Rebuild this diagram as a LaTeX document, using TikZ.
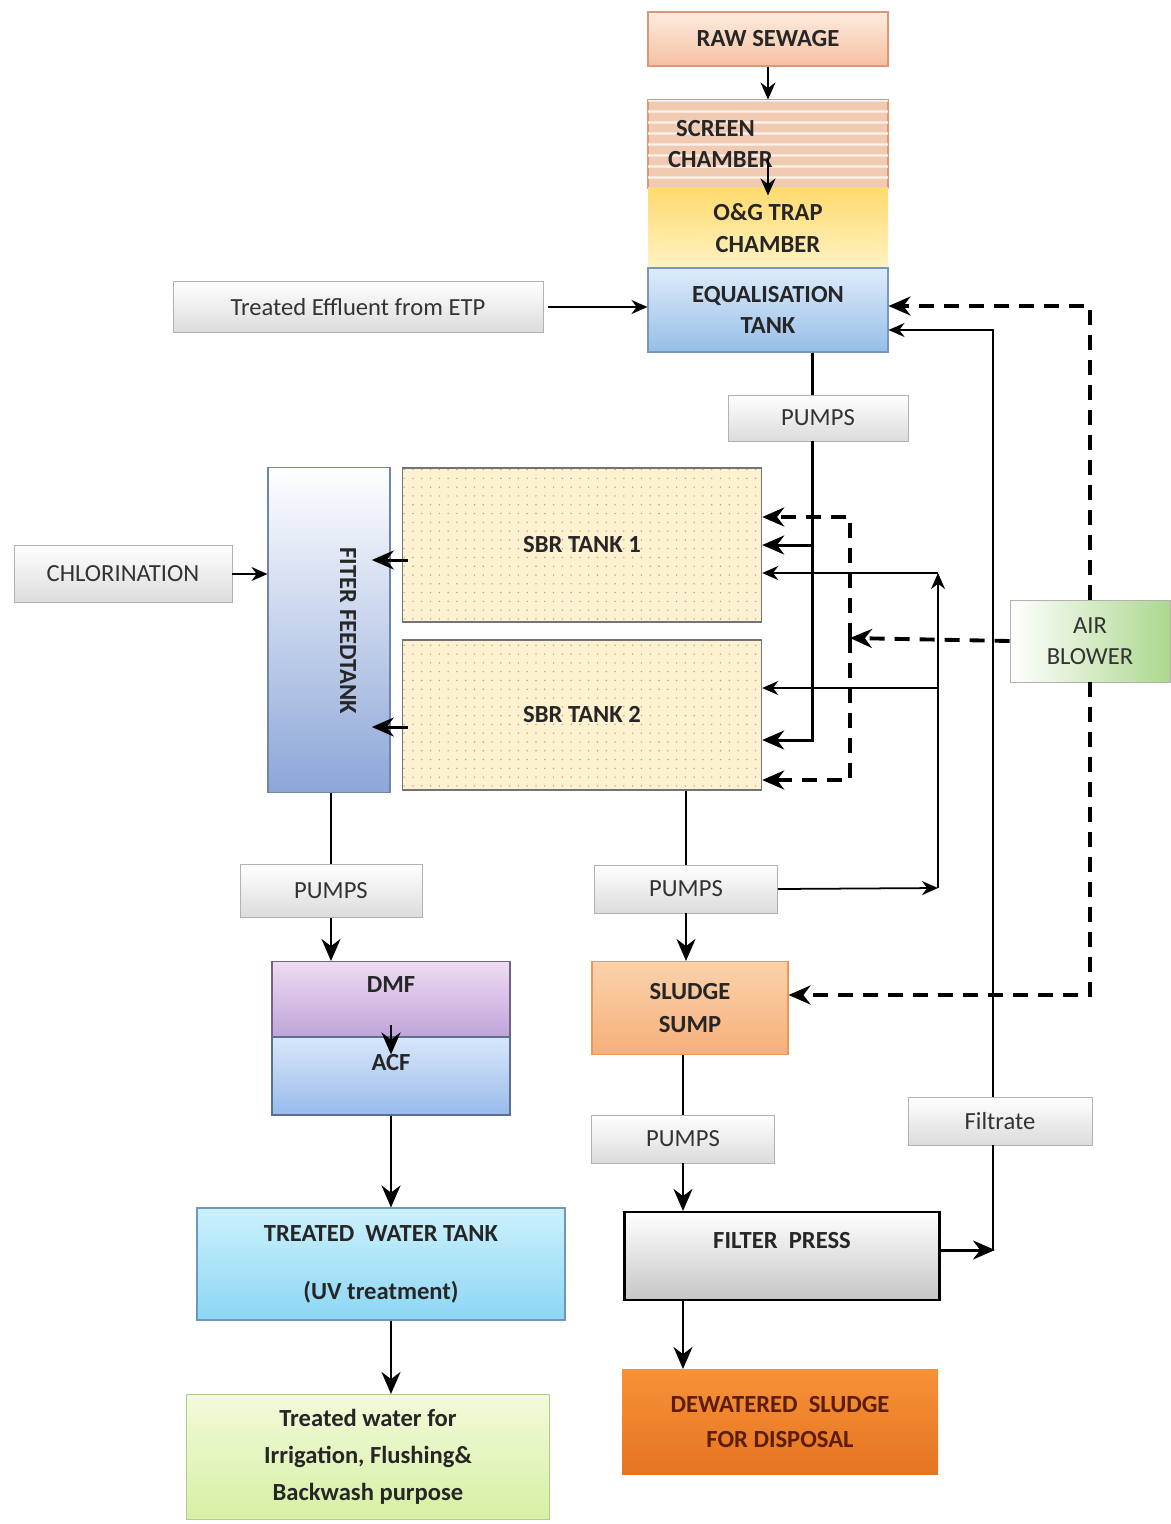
\documentclass[tikz,border=0pt]{standalone}
\usepackage{fontspec}
\setmainfont{Carlito}
\usetikzlibrary{arrows.meta, positioning, calc, patterns.meta}
\definecolor{rawA}{RGB}{253,236,222}
\definecolor{rawB}{RGB}{246,192,162}
\definecolor{rawE}{RGB}{222,150,120}
\definecolor{scrC}{RGB}{240,203,178}
\definecolor{ogA}{RGB}{255,218,110}
\definecolor{ogB}{RGB}{255,242,195}
\definecolor{eqA}{RGB}{222,236,250}
\definecolor{eqB}{RGB}{150,190,232}
\definecolor{feedB}{RGB}{140,166,216}
\definecolor{airB}{RGB}{172,216,142}
\definecolor{sbrC}{RGB}{253,241,207}
\definecolor{dmfA}{RGB}{238,220,242}
\definecolor{dmfB}{RGB}{192,164,218}
\definecolor{acfA}{RGB}{216,231,250}
\definecolor{acfB}{RGB}{152,187,236}
\definecolor{sumpA}{RGB}{251,210,172}
\definecolor{sumpB}{RGB}{245,176,122}
\definecolor{sumpE}{RGB}{236,150,92}
\definecolor{tankA}{RGB}{204,241,252}
\definecolor{tankB}{RGB}{140,214,244}
\definecolor{tankE}{RGB}{110,150,190}
\definecolor{useA}{RGB}{242,250,218}
\definecolor{useB}{RGB}{214,240,164}
\definecolor{useE}{RGB}{182,202,140}
\definecolor{dewA}{RGB}{246,146,56}
\definecolor{dewB}{RGB}{230,116,32}
\definecolor{dewT}{RGB}{92,28,6}
\tikzstyle{stage} = [rectangle, draw, line width=0.6pt, align=center, text=black!85, font=\fontsize{14}{18}\selectfont\bfseries]
\tikzstyle{graybox} = [rectangle, draw=gray!60, line width=0.5pt, top color=white, bottom color=gray!28, align=center, text=black!80, font=\fontsize{14}{18}\selectfont]
\tikzstyle{sbr} = [rectangle, draw=black!55, line width=0.8pt, fill=sbrC, postaction={pattern={Dots[distance=5pt,radius=0.45pt]}, pattern color=black!35}, text=black!85, font=\fontsize{14}{18}\selectfont\bfseries, minimum width=71.8mm]
\tikzstyle{flow} = [line width=1.7pt, -{Stealth[length=4.4mm, width=3.8mm]}]
\tikzstyle{pipe} = [line width=1.7pt]
\tikzstyle{feedline} = [line width=1.2pt, -{Stealth[length=3.4mm, width=3mm]}]
\tikzstyle{thinflow} = [line width=1pt, -{Stealth[length=3.2mm, width=2.8mm]}]
\tikzstyle{thin} = [line width=1pt]
\tikzstyle{air} = [line width=2.2pt, dash pattern=on 3mm off 2mm, -{Stealth[length=4.4mm, width=3.8mm]}]

\begin{document}
\begin{tikzpicture}[x=0.2mm, y=-0.2mm]
\useasboundingbox (0,0) rectangle (1170,1524);

% inlet train
\node (raw) [stage, top color=rawA, bottom color=rawB, draw=rawE, minimum width=48mm, minimum height=10.8mm] at (768,39) {RAW SEWAGE};
\node (screen) [stage, fill=scrC, draw=rawE, postaction={pattern={Lines[angle=0,distance=6.5pt,line width=1.4pt]}, pattern color=white!75!scrC}, minimum width=48mm, minimum height=17.6mm, text width=40mm, align=left, font=\fontsize{14}{18}\selectfont\bfseries] at (768,144) {~SCREEN\\CHAMBER};
\node (og) [stage, top color=ogA, bottom color=ogB, draw=none, minimum width=48mm, minimum height=16mm] at (768,228) {O\&G TRAP\\CHAMBER};
\node (eq) [stage, top color=eqA, bottom color=eqB, draw=eqB!80!black, minimum width=48mm, minimum height=16.8mm] at (768,310) {EQUALISATION\\TANK};
\node (etp) [graybox, minimum width=74mm, minimum height=10.2mm] at (358,307) {Treated Effluent from ETP};
\node (pumps1) [graybox, minimum width=36mm, minimum height=9.2mm] at (818,418) {PUMPS};

% SBR block
\node (sbr1) [sbr, minimum height=30.8mm] at (582,545) {SBR TANK 1};
\node (sbr2) [sbr, minimum height=30mm] at (582,715) {SBR TANK 2};
\node (feed) [stage, top color=white, bottom color=feedB, draw=feedB!80!black, minimum width=24.4mm, minimum height=65mm] at (329,630) {};
\node (feedlabel) [rotate=-90, text=black!85, font=\fontsize{14}{18}\selectfont\bfseries] at (348,631) {FITER FEEDTANK};
\node (chlor) [graybox, minimum width=43.6mm, minimum height=11.4mm] at (123,574) {CHLORINATION};
\node (blower) [graybox, left color=white, right color=airB, minimum width=32mm, minimum height=16.4mm] at (1090,641) {AIR\\BLOWER};

% treated water line
\node (pumpsA) [graybox, minimum width=36.4mm, minimum height=10.6mm] at (331,891) {PUMPS};
\node (dmf) [stage, top color=dmfA, bottom color=dmfB, draw=dmfB!60!black, minimum width=47.6mm, minimum height=15mm, text depth=5.6mm] at (391,999) {DMF};
\node (acf) [stage, top color=acfA, bottom color=acfB, draw=acfB!60!black, minimum width=47.6mm, minimum height=15.6mm, text depth=5.6mm] at (391,1076) {ACF};
\node (tank) [stage, top color=tankA, bottom color=tankB, draw=tankE, minimum width=73.6mm, minimum height=22.4mm, font=\fontsize{14}{33}\selectfont\bfseries] at (381,1264) {TREATED\ \ WATER TANK\\(UV treatment)};
\node (reuse) [stage, top color=useA, bottom color=useB, draw=useE, minimum width=72.6mm, minimum height=25mm, font=\fontsize{14}{21}\selectfont\bfseries] at (368,1457) {Treated water for\\Irrigation, Flushing\&\\Backwash purpose};

% sludge line
\node (pumpsB) [graybox, minimum width=36.6mm, minimum height=9.6mm] at (686,889) {PUMPS};
\node (sump) [stage, top color=sumpA, bottom color=sumpB, draw=sumpE, minimum width=39.2mm, minimum height=18.6mm, font=\fontsize{14}{19}\selectfont\bfseries] at (690,1008) {SLUDGE\\SUMP};
\node (pumpsC) [graybox, minimum width=36.6mm, minimum height=9.6mm] at (683,1139) {PUMPS};
\node (filtrate) [graybox, minimum width=36.8mm, minimum height=9.6mm] at (1000,1121) {Filtrate};
\node (press) [stage, top color=white, bottom color=gray!45, draw=black, line width=1.2pt, minimum width=63mm, minimum height=17.6mm, text depth=6.4mm] at (782,1256) {FILTER\ \ PRESS};
\node (dew) [stage, top color=dewA, bottom color=dewB, draw=none, text=dewT, minimum width=63.2mm, minimum height=21mm, font=\fontsize{14}{20}\selectfont\bfseries] at (780,1422) {DEWATERED\ \ SLUDGE\\FOR DISPOSAL};

\coordinate (riser) at (938,888);
\coordinate (rtop) at (938,573);
\coordinate (rlow) at (938,688);
\coordinate (amid) at (850,638);

% main flow
\draw[feedline] (raw) -- (screen);
\draw[feedline] ($(screen.south)+(0,-30)$) -- ($(og.north)+(0,8)$);
\draw[thinflow] (etp.east) ++(5,0) -- (etp.east -| eq.west);
\draw[pipe] ($(eq.south -| pumps1)+(-6,0)$) -- ($(pumps1.north)+(-6,0)$);
\draw[flow] ($(pumps1.south)+(-6,0)$) |- ($(sbr2.east)+(0,25)$);
\draw[flow] ($(pumps1.south |- sbr1.east)+(-6,0)$) -- (sbr1.east);
\draw[flow] ($(sbr1.west)+(6,15)$) -- ($(sbr1.west)+(-30,15)$);
\draw[flow] ($(sbr2.west)+(6,12)$) -- ($(sbr2.west)+(-30,12)$);
\draw[thinflow] (chlor.east) -- (chlor.east -| feed.west);

% treated water
\draw[pipe] (feed.south -| pumpsA) -- (pumpsA.north);
\draw[flow] (pumpsA.south) -- (pumpsA.south |- dmf.north);
\draw[flow] ($(dmf.south)+(0,-12)$) -- ($(acf.north)+(0,18)$);
\draw[flow] (acf.south) -- (acf.south |- tank.north);
\draw[flow] (acf.south |- tank.south) -- (acf.south |- reuse.north);

% sludge
\draw[pipe] (pumpsB.north |- sbr2.south) -- (pumpsB.north);
\draw[flow] (pumpsB.south) -- (pumpsB.south |- sump.north);
\draw[pipe] (pumpsC.north |- sump.south) -- (pumpsC.north);
\draw[flow] (pumpsC.south) -- (pumpsC.south |- press.north);
\draw[flow] (pumpsC.south |- press.south) -- (pumpsC.south |- dew.north);

% decant and filtrate returns
\draw[thinflow] (pumpsB.east) -- (riser);
\draw[thinflow] (riser) -- (rtop);
\draw[thinflow] (rtop) -- (rtop -| sbr1.east);
\draw[thinflow] (rlow) -- (rlow -| sbr2.east);
\draw[flow] (press.east |- 0,1250) -- ($(filtrate.south |- 0,1250)+(-5,0)$);
\draw[thin] ($(filtrate.south |- 0,1250)+(-7,0)$) -- ($(filtrate.south)+(-7,0)$);
\draw[thinflow] ($(filtrate.north)+(-7,0)$) |- ($(eq.east)+(0,20)$);

% air
\draw[air] (blower.west) -- (amid);
\draw[air] (amid) |- ($(sbr1.east)+(0,-28)$);
\draw[air] (amid) |- ($(sbr2.east)+(0,65)$);
\draw[air] (blower.north) |- ($(eq.east)+(0,-4)$);
\draw[air] (blower.south) |- ($(sump.east)+(0,-13)$);
\end{tikzpicture}
\end{document}
